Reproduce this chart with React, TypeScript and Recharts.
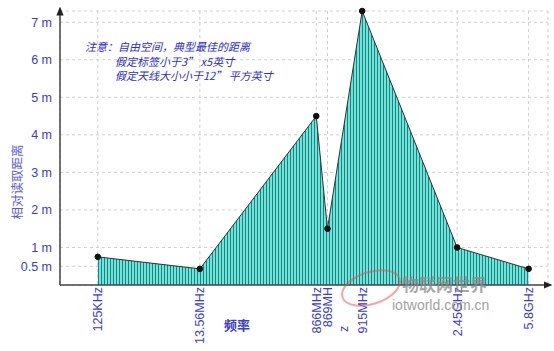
import React from 'react';
import { AreaChart, Area, XAxis, YAxis, CartesianGrid } from 'recharts';

// frequency bands, their slot along the (non-uniform) x axis, and read distance in metres
const bands = ['125KHz', '13.56MHz', '866MHz', '869MHz', '915MHz', '2.45GHz', '5.8GHz'];
const bandSlots = [0, 1, 2.14, 2.25, 2.59, 3.52, 4.22];
const readDistance = [0.75, 0.43, 4.5, 1.5, 7.3, 1.0, 0.43];
const distanceTicks = [0.5, 1, 2, 3, 4, 5, 6, 7];
// how each band label wraps in the original
const bandLabelLines = [['125KHz'], ['13.56MHz'], ['866MHz'], ['869MH', 'z'], ['915MHz'], ['2.45GHz'], ['5.8GHz']];

const notes = ['注意：自由空间，典型最佳的距离', '假定标签小于3” x5英寸', '假定天线大小小于12” 平方英寸'];

const data = bands.map((name, i) => ({ name, slot: bandSlots[i], dist: readDistance[i] }));

const BLUE = '#3b3bd6';
const FONT = '"Liberation Sans", Arial, sans-serif';

const BandTick = (props: any) => {
  const { x, payload } = props;
  const idx = bandSlots.indexOf(payload.value);
  const lines = bandLabelLines[idx] || [];
  const top = 287;
  return (
    <g>
      <text
        x={x}
        y={top}
        dy={4.5}
        transform={`rotate(-90 ${x} ${top})`}
        textAnchor="end"
        fill={BLUE}
        fontSize={12.5}
        fontFamily={FONT}
      >
        {lines[0]}
      </text>
      {lines[1] && (
        <text
          x={x + 16}
          y={332}
          dy={4.5}
          transform={`rotate(-90 ${x + 16} 332)`}
          textAnchor="start"
          fill={BLUE}
          fontSize={12.5}
          fontFamily={FONT}
        >
          {lines[1]}
        </text>
      )}
    </g>
  );
};

export default function App() {
  return (
    <div style={{ position: 'absolute', left: 0, top: 0, width: 554, height: 351, background: '#fff' }}>
      <AreaChart width={554} height={351} data={data} margin={{ top: 11, right: 6, left: 0, bottom: 0 }}>
        <defs>
          <pattern id="stripes" width="3" height="4" patternUnits="userSpaceOnUse">
            <rect width="3" height="4" fill="#72e2da" />
            <rect x="2" width="1" height="4" fill="#15877e" />
          </pattern>
          <marker id="arrow" viewBox="0 0 10 10" refX="5" refY="5" markerWidth="6" markerHeight="6" orient="auto-start-reverse">
            <path d="M0,1 L10,5 L0,9 z" fill="#222" />
          </marker>
        </defs>
        <CartesianGrid stroke="#cfcfcf" strokeDasharray="3 3" />
        <XAxis
          type="number"
          dataKey="slot"
          domain={[-0.37, 4.41]}
          ticks={bandSlots}
          tick={<BandTick />}
          tickLine={false}
          height={66}
          interval={0}
          axisLine={{ stroke: '#444', strokeWidth: 1.5, markerEnd: 'url(#arrow)' } as any}
        />
        <YAxis
          type="number"
          domain={[0, 7.3]}
          ticks={distanceTicks}
          interval={0}
          tickFormatter={(v: number) => `${v} m`}
          tickLine={false}
          width={60}
          tick={{ fill: BLUE, fontSize: 12.5, fontFamily: FONT }}
          axisLine={{ stroke: '#444', strokeWidth: 1.5, markerStart: 'url(#arrow)' } as any}
        />
        <Area
          type="linear"
          dataKey="dist"
          stroke="#333"
          strokeWidth={1}
          fill="url(#stripes)"
          fillOpacity={1}
          dot={{ r: 2.8, fill: '#111', stroke: '#111', strokeWidth: 1 }}
          isAnimationActive={false}
        />
      </AreaChart>
      <svg width={554} height={351} style={{ position: 'absolute', left: 0, top: 0, pointerEvents: 'none' }}>
        <text
          x={22}
          y={182}
          transform="rotate(-90 22 182)"
          textAnchor="middle"
          fill="#5a5ae0"
          fontSize={12.5}
          fontFamily='"Noto Sans CJK SC", sans-serif'
        >
          相对读取距离
        </text>
        <text x={237} y={330} textAnchor="middle" fill={BLUE} fontSize={13} fontWeight="bold" fontFamily='"Noto Sans CJK SC", sans-serif'>
          频率
        </text>
        {notes.map((n, i) => (
          <text
            key={i}
            x={i === 0 ? 85 : 115}
            y={51 + i * 14.5}
            fill="#2e2ec8"
            fontSize={11}
            fontStyle="italic"
            fontFamily='"Noto Sans CJK SC", sans-serif'
          >
            {n}
          </text>
        ))}
        <ellipse cx={371} cy={288} rx={30} ry={16} fill="none" stroke="#e05050" strokeWidth={2} opacity={0.5} transform="rotate(-18 371 288)" />
        <text x={402} y={291} fill="#8a8a8a" fontSize={17} fontWeight="bold" fontFamily='"Noto Sans CJK SC", sans-serif' opacity={0.75}>
          物联网世界
        </text>
        <text x={392} y={310} fill="#8a8a8a" fontSize={14} fontFamily={FONT} opacity={0.8}>
          iotworld.com.cn
        </text>
      </svg>
    </div>
  );
}
